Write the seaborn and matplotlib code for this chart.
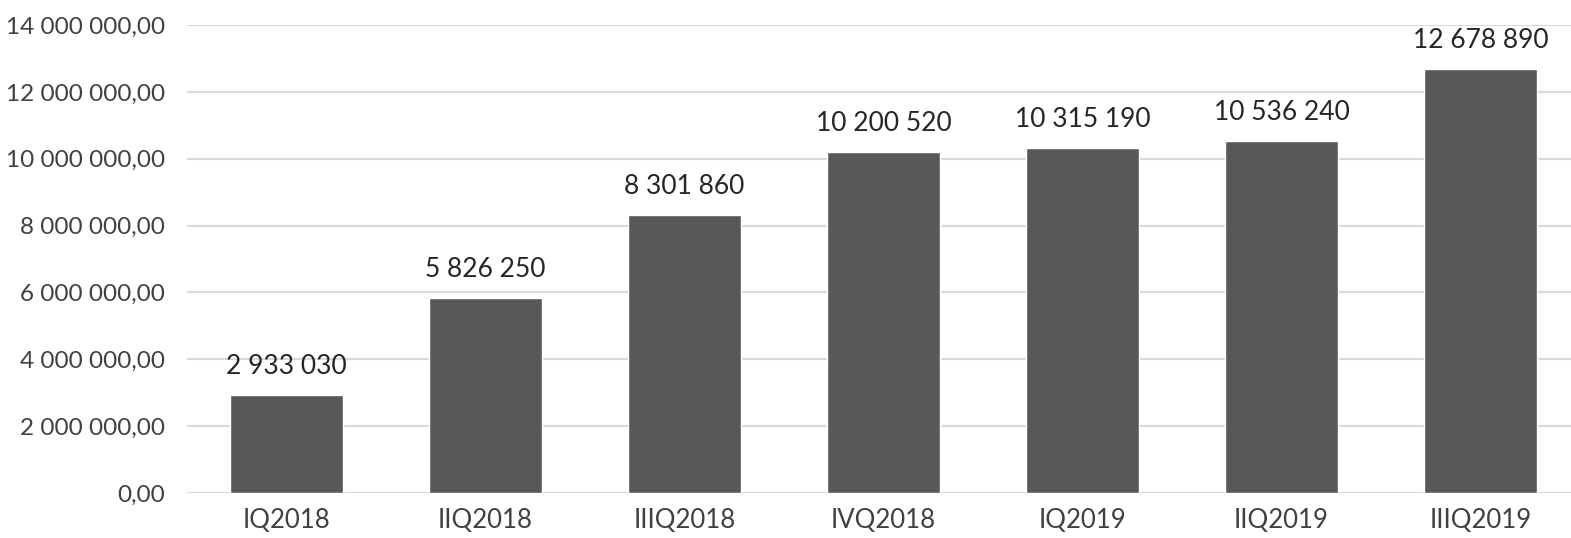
import matplotlib
matplotlib.use("Agg")
import matplotlib.pyplot as plt
import seaborn as sns
import pandas as pd
from matplotlib.ticker import FuncFormatter

quarters = ['IQ2018', 'IIQ2018', 'IIIQ2018', 'IVQ2018', 'IQ2019', 'IIQ2019', 'IIIQ2019']
values = [2933030, 5826250, 8301860, 10200520, 10315190, 10536240, 12678890]

df = pd.DataFrame({'quarter': quarters, 'value': values})

sns.set_style("white")
plt.rcParams['font.family'] = ['Lato', 'DejaVu Sans']

fig = plt.figure(figsize=(15.71, 5.38), dpi=100)
ax = fig.add_axes([187 / 1571, 45 / 538, 1384 / 1571, 468 / 538])

sns.barplot(x='quarter', y='value', data=df, color='#58585a', saturation=1,
            width=0.57, ax=ax, zorder=3)

ax.set_ylim(0, 14000000)
ax.set_xlim(-0.5, 6.455)
ax.set_yticks(range(0, 14000001, 2000000))


def pl_fmt(v, pos):
    s = f"{v:,.2f}".replace(',', ' ').replace('.', ',')
    return s


ax.yaxis.set_major_formatter(FuncFormatter(pl_fmt))
ax.grid(axis='y', color='#d9d9d9', linewidth=1.5, zorder=0)
ax.grid(axis='x', visible=False)
for side in ['top', 'right', 'left', 'bottom']:
    ax.spines[side].set_visible(False)
ax.tick_params(axis='y', length=0, pad=16, labelsize=17.5, labelcolor='#404040')
ax.tick_params(axis='x', length=0, pad=11, labelsize=18.5, labelcolor='#404040')
ax.set_xlabel('')
ax.set_ylabel('')

for i, v in enumerate(values):
    ax.text(i, v + 480000, f"{v:,}".replace(',', ' '), ha='center', va='bottom',
            fontsize=19, color='#262626')

fig.savefig('out.png', dpi=100)
